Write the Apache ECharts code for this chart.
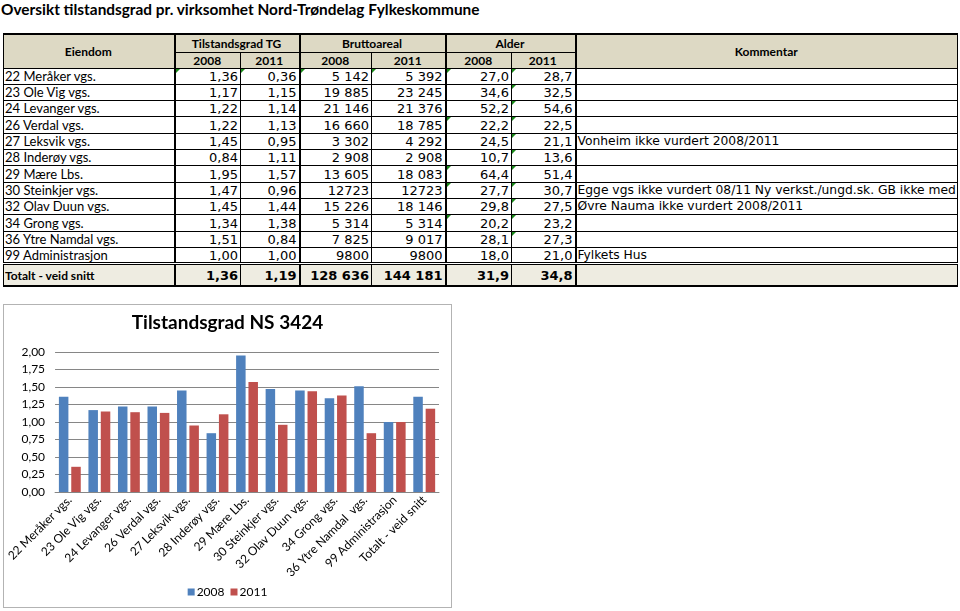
<!DOCTYPE html>
<html>
<head>
<meta charset="utf-8">
<script src="https://cdn.jsdelivr.net/npm/echarts@6/dist/echarts.min.js"></script>
<style>
  html, body { margin: 0; padding: 0; background: #fff; }
  body { width: 960px; height: 611px; position: relative; overflow: hidden; }
  #title { position: absolute; left: 1px; top: 0px; font: bold 15.4px Lato, "Liberation Sans", sans-serif; color: #000; white-space: nowrap; }
  #tbl { position: absolute; left: 3px; top: 33px; width: 954px; border-collapse: collapse; table-layout: fixed; }
  #tbl td { padding: 0 2px 0 1px; border: 1px solid #000; overflow: hidden; white-space: nowrap; position: relative; line-height: 13px; }
  #tbl tr.h td { background: #DDD9C4; font: bold 12px/13px Lato, "Liberation Sans", sans-serif; text-align: center; }
  #tbl td.lbl { font: 13px/13px Lato, "Liberation Sans", sans-serif; text-align: left; }
  #tbl td.num { font: 13px/13px "DejaVu Sans", Verdana, sans-serif; text-align: right; }
  #tbl td.cmt { font: 12.3px/13px "DejaVu Sans", Verdana, sans-serif; text-align: left; }
  #tbl tr.tot td { background: #EEECE1; border-top: 3px double #000; border-bottom: 2px solid #000; }
  #tbl tr.tot td.lbl { font: bold 12px/13px Lato, "Liberation Sans", sans-serif; }
  #tbl tr.tot td.num { font: bold 13px/13px "DejaVu Sans", Verdana, sans-serif; }
  #tbl .gl { border-left: 2px solid #000 !important; }
  #tbl tr.top td { border-top: 2px solid #000; }
  .tri::before { content: ""; position: absolute; left: 0; top: 0; width: 0; height: 0;
    border-top: 4px solid #1a8a1a; border-right: 4px solid transparent; }
  #chart { position: absolute; left: 3px; top: 304px; width: 449px; height: 304px; box-sizing: border-box; border: 1px solid #b3b3b3; }
</style>
</head>
<body>
<div id="title">Oversikt tilstandsgrad pr. virksomhet Nord-Trøndelag Fylkeskommune</div>
<table id="tbl"></table>
<div id="chart"></div>
<script>
// ---- data ----
const properties = ["22 Meråker vgs.", "23 Ole Vig vgs.", "24 Levanger vgs.", "26 Verdal vgs.", "27 Leksvik vgs.", "28 Inderøy vgs.", "29 Mære Lbs.", "30 Steinkjer vgs.", "32 Olav Duun vgs.", "34 Grong vgs.", "36 Ytre Namdal  vgs.", "99 Administrasjon"];
const totalLabel = "Totalt - veid snitt";
const tg2008 = [1.36, 1.17, 1.22, 1.22, 1.45, 0.84, 1.95, 1.47, 1.45, 1.34, 1.51, 1.00];
const tg2011 = [0.36, 1.15, 1.14, 1.13, 0.95, 1.11, 1.57, 0.96, 1.44, 1.38, 0.84, 1.00];
const tgTotal2008 = 1.36;
const tgTotal2011 = 1.19;
const area2008 = ["5 142", "19 885", "21 146", "16 660", "3 302", "2 908", "13 605", "12723", "15 226", "5 314", "7 825", "9800"];
const area2011 = ["5 392", "23 245", "21 376", "18 785", "4 292", "2 908", "18 083", "12723", "18 146", "5 314", "9 017", "9800"];
const areaTotal2008 = "128 636";
const areaTotal2011 = "144 181";
const age2008 = [27.0, 34.6, 52.2, 22.2, 24.5, 10.7, 64.4, 27.7, 29.8, 20.2, 28.1, 18.0];
const age2011 = [28.7, 32.5, 54.6, 22.5, 21.1, 13.6, 51.4, 30.7, 27.5, 23.2, 27.3, 21.0];
const ageTotal2008 = 31.9;
const ageTotal2011 = 34.8;
const comments = ["", "", "", "", "Vonheim ikke vurdert 2008/2011", "", "", "Egge vgs ikke vurdert 08/11 Ny verkst./ungd.sk. GB ikke med", "Øvre Nauma ikke vurdert 2008/2011", "", "", "Fylkets Hus"];
const headers = { prop: "Eiendom", tg: "Tilstandsgrad TG", area: "Bruttoareal", age: "Alder", comment: "Kommentar" };
const years = ["2008", "2011"];
const legendNames = ["2008", "2011"];
const chartTitle = "Tilstandsgrad NS 3424";
const yTicks = { min: 0, max: 2, interval: 0.25 };
// cells carrying Excel's green note marker: [row, numeric column]
const markers = [[0,0],[0,1],[0,2],[0,3],[0,4],[0,5],[1,5],[2,5],[3,4],[3,5],[4,5],[5,5],[6,4],[6,5],[7,4],[7,5],[8,5],[9,4],[9,5],[10,5]];

// ---- table ----
const fmt = (v, d) => v.toFixed(d).replace('.', ',');
const colW = [171, 66, 59, 72, 74, 66, 64, 382];
const tbl = document.getElementById('tbl');
let html = '<colgroup>' + colW.map(w => `<col style="width:${w}px">`).join('') + '</colgroup>';
html += `<tr class="h top" style="height:18px"><td rowspan="2">${headers.prop}</td><td colspan="2" class="gl">${headers.tg}</td><td colspan="2" class="gl">${headers.area}</td><td colspan="2" class="gl">${headers.age}</td><td rowspan="2" class="gl">${headers.comment}</td></tr>`;
html += `<tr class="h" style="height:16px"><td class="gl">${years[0]}</td><td>${years[1]}</td><td class="gl">${years[0]}</td><td>${years[1]}</td><td class="gl">${years[0]}</td><td>${years[1]}</td></tr>`;
const isMarked = (r, c) => markers.some(m => m[0] === r && m[1] === c);
properties.forEach((p, i) => {
  const vals = [fmt(tg2008[i], 2), fmt(tg2011[i], 2), area2008[i], area2011[i], fmt(age2008[i], 1), fmt(age2011[i], 1)];
  html += `<tr style="height:16.33px"><td class="lbl">${p}</td>` +
    vals.map((v, c) => `<td class="num${c % 2 === 0 ? ' gl' : ''}${isMarked(i, c) ? ' tri' : ''}">${v}</td>`).join('') +
    `<td class="cmt gl">${comments[i]}</td></tr>`;
});
const tv = [fmt(tgTotal2008, 2), fmt(tgTotal2011, 2), areaTotal2008, areaTotal2011, fmt(ageTotal2008, 1), fmt(ageTotal2011, 1)];
html += `<tr class="tot" style="height:22px"><td class="lbl">${totalLabel}</td>` +
  tv.map((v, c) => `<td class="num${c % 2 === 0 ? ' gl' : ''}">${v}</td>`).join('') + `<td class="cmt gl"></td></tr>`;
tbl.innerHTML = html;

// ---- chart ----
const categories = properties.concat([totalLabel]);
const s2008 = tg2008.concat([tgTotal2008]);
const s2011 = tg2011.concat([tgTotal2011]);
const FONT = 'Lato, "Liberation Sans", sans-serif';
const chart = echarts.init(document.getElementById('chart'), null, { renderer: 'canvas' });
chart.setOption({
  animation: false,
  textStyle: { fontFamily: FONT },
  title: { text: chartTitle, left: 'center', top: 8, padding: 0,
    textStyle: { fontFamily: FONT, fontSize: 19, fontWeight: 'bold', color: '#000' } },
  legend: { data: legendNames, bottom: 9, left: 'center', padding: 0, itemWidth: 7, itemHeight: 7, itemGap: 6,
    icon: 'rect', textStyle: { fontFamily: FONT, fontSize: 12, color: '#000', padding: [0, 0, 0, -3] } },
  grid: { left: 46, right: 12, top: 47, bottom: 115, containLabel: false },
  xAxis: {
    type: 'category', data: categories,
    axisLine: { lineStyle: { color: '#868686', width: 1 } },
    axisTick: { show: false },
    axisLabel: { interval: 0, rotate: 45, margin: 6, fontFamily: FONT, fontSize: 12, color: '#000' }
  },
  yAxis: {
    type: 'value', min: yTicks.min, max: yTicks.max, interval: yTicks.interval,
    axisLine: { show: false }, axisTick: { show: false },
    splitLine: { lineStyle: { color: '#868686', width: 1 } },
    axisLabel: { margin: 10, fontFamily: FONT, fontSize: 12, color: '#000', formatter: v => fmt(v, 2) }
  },
  series: [
    { name: legendNames[0], type: 'bar', data: s2008, itemStyle: { color: '#4F81BD' }, barGap: '30%', barCategoryGap: '26%' },
    { name: legendNames[1], type: 'bar', data: s2011, itemStyle: { color: '#C0504D' }, barGap: '30%', barCategoryGap: '26%' }
  ]
});
</script>
</body>
</html>
